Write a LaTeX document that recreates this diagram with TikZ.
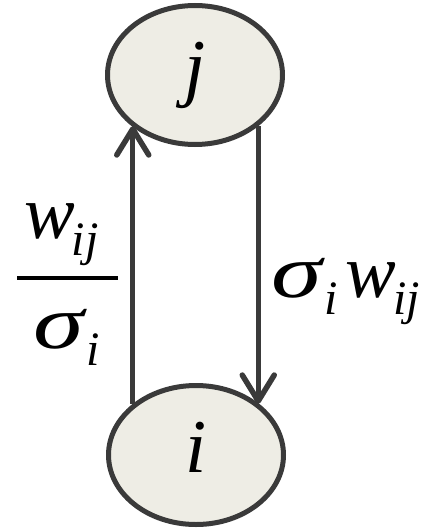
\documentclass[tikz,border=0pt]{standalone}
\usepackage{fontspec}
\setmainfont{Liberation Serif}
\usetikzlibrary{shapes.geometric,arrows.meta}
\definecolor{edgegray}{HTML}{3A3A3A}
\definecolor{nodefill}{HTML}{EEEDE5}
\newcommand{\bigtxt}{\fontsize{76}{80}\selectfont}
\newcommand{\lbltxt}{\fontsize{76}{80}\selectfont}
\newcommand{\subtxt}[1]{\raisebox{-17pt}{\fontsize{48}{50}\selectfont\textit{#1}}}
\newcommand{\sig}{\scalebox{1.35}[1]{\textit{σ}}}
\tikzset{
  vert/.style={ellipse, draw=edgegray, fill=nodefill, line width=5pt,
    minimum width=175pt, minimum height=139pt, inner sep=0pt,
    text height=50pt, text depth=15pt, font=\bigtxt\itshape},
  arr/.style={draw=edgegray, line width=5pt,
    -{Straight Barb[length=26pt, width=32pt, round, line width=5.5pt]}},
  lbl/.style={inner sep=0pt, anchor=base west, font=\lbltxt}
}
\begin{document}
\begin{tikzpicture}[x=1pt,y=1pt]
\path[use as bounding box] (0,0) rectangle (435,-532);
\node[vert] (j) at (195,-75) {j};
\node[vert] (i) at (196,-455) {i};
\draw[arr] (i.141) -- (i.141 |- j.-141);
\draw[arr] (j.-39) -- (j.-39 |- i.39);
\node[lbl] (num) at (24,-238) {\textit{w}\hspace{-3pt}\subtxt{ij}};
\draw[line width=4pt] (17,-278) -- (118,-278);
\node[lbl] (den) at (33,-348) {\sig\hspace{-1pt}\subtxt{i}};
\node[lbl] (lblR) at (271,-297) {\sig\hspace{-1pt}\subtxt{i}\hspace{8pt}\textit{w}\hspace{-3pt}\subtxt{ij}};
\end{tikzpicture}
\end{document}
